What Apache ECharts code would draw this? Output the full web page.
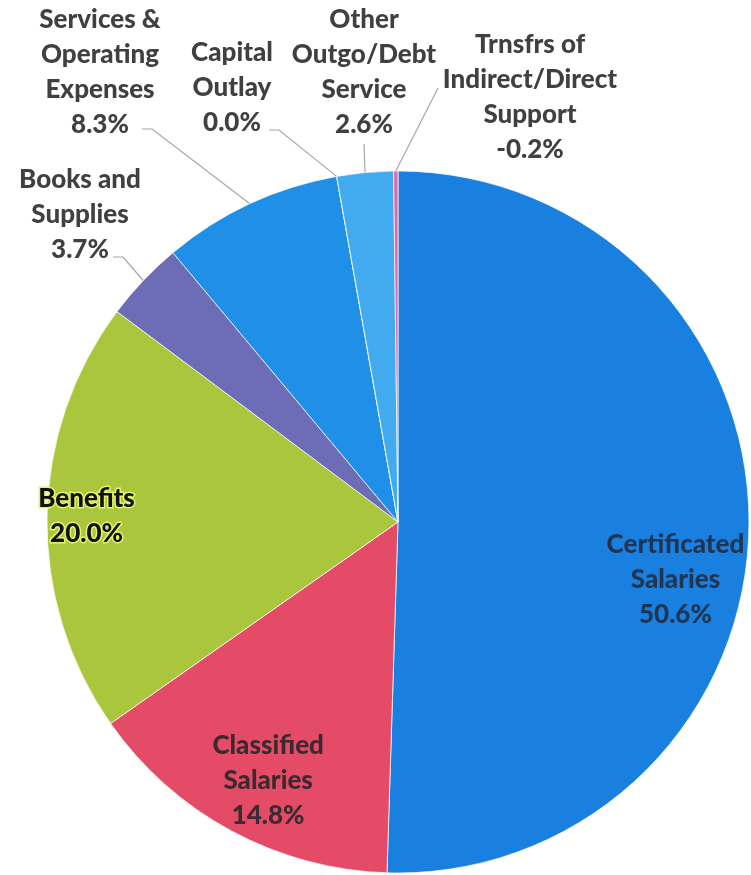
<!DOCTYPE html>
<html>
<head>
<meta charset="utf-8">
<script src="https://cdn.jsdelivr.net/npm/echarts@6/dist/echarts.min.js"></script>
<style>
  html, body { margin: 0; padding: 0; background: #ffffff; }
  #chart { width: 751px; height: 875px; }
</style>
</head>
<body>
<div id="chart"></div>
<script>
// Expenditure categories, clockwise from 12 o'clock
const categories = [
  'Certificated\nSalaries',
  'Classified\nSalaries',
  'Benefits',
  'Books and\nSupplies',
  'Services &\nOperating\nExpenses',
  'Capital\nOutlay',
  'Other\nOutgo/Debt\nService',
  'Trnsfrs of\nIndirect/Direct\nSupport'
];
// Share of total expenditures (%)
const shares = [50.6, 14.8, 20.0, 3.7, 8.3, 0.0, 2.6, -0.2];

const sliceColors = ['#1a80e0', '#e34b67', '#a9c63d', '#6d6cb6', '#1f8fe7', '#2a9ae8', '#42abf0', '#e866a8'];

// Inside labels: nudged away from the half-radius default
const insideLabels = {
  0: { offset: [99, 55], color: '#1f3552' },
  1: { offset: [-45, 102], color: '#3b2a30' },
  2: { offset: [-133, -3], color: '#111111', textBorderColor: '#e4f46a', textBorderWidth: 3 }
};

// Outside labels: centre of the text block, the point the leader line
// attaches to (relative to that centre) and a short horizontal elbow
const outsideLabels = {
  3: { x: 80, y: 215, ax: 33, ay: 42, elbow: 10 },
  4: { x: 100, y: 72, ax: 42, ay: 57, elbow: 10 },
  5: { x: 232, y: 88, ax: 37, ay: 42, elbow: 10 },
  6: { x: 364, y: 72, ax: 0, ay: 72, elbow: 0 },
  7: { x: 530, y: 97, ax: -92, ay: -9, elbow: 0 }
};

const baseFont = {
  fontFamily: 'Lato',
  fontWeight: 900,
  fontSize: 26,
  lineHeight: 35,
  color: '#404040'
};

const pieData = categories.map(function (name, i) {
  const item = {
    name: name,
    value: Math.abs(shares[i]),
    itemStyle: { color: sliceColors[i] }
  };
  if (insideLabels[i]) {
    const c = insideLabels[i];
    item.label = Object.assign({ position: 'inside' }, c);
    item.labelLine = { show: false };
  }
  return item;
});

const chart = echarts.init(document.getElementById('chart'), null, { renderer: 'canvas' });

chart.setOption({
  animation: false,
  backgroundColor: '#ffffff',
  series: [{
    type: 'pie',
    center: [398, 522],
    radius: 351,
    startAngle: 90,
    clockwise: true,
    avoidLabelOverlap: false,
    itemStyle: { borderColor: 'rgba(255,255,255,0.7)', borderWidth: 1 },
    label: Object.assign({
      show: true,
      position: 'outside',
      align: 'center',
      formatter: function (p) {
        return categories[p.dataIndex] + '\n' + shares[p.dataIndex].toFixed(1) + '%';
      }
    }, baseFont),
    labelLine: {
      show: true,
      length: 10,
      length2: 10,
      lineStyle: { color: '#a6a6a6', width: 1.2 }
    },
    emphasis: { disabled: true },
    labelLayout: function (p) {
      const spot = outsideLabels[p.dataIndex];
      if (!spot || !p.labelLinePoints) { return {}; }
      const anchor = p.labelLinePoints[0];
      const ax = spot.x + spot.ax;
      const ay = spot.y + spot.ay;
      return {
        x: spot.x,
        y: spot.y,
        align: 'center',
        verticalAlign: 'middle',
        labelLinePoints: [anchor, [ax + spot.elbow, ay], [ax, ay]]
      };
    },
    data: pieData
  }]
});
</script>
</body>
</html>
